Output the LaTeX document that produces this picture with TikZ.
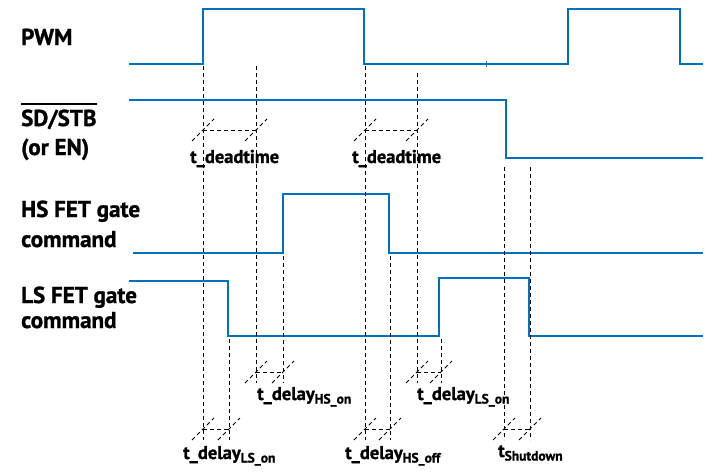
\documentclass[tikz,border=0pt]{standalone}
\usepackage{fontspec}
\setmainfont{PT Sans}[BoldFeatures={FakeBold=1.2}]
\definecolor{sigblue}{RGB}{0,112,192}
\newcommand\measline[3]{%
  \draw[guide] (#1,#3) -- (#2,#3);
  \draw[guide] (#1-11,#3+11) -- (#1+11,#3-11);
  \draw[guide] (#2-11,#3+11) -- (#2+11,#3-11);}
\newcommand\subtxt[1]{\raisebox{-3.5pt}{\fontsize{13.5}{14}\selectfont #1}}
\begin{document}
\begin{tikzpicture}[x=1pt,y=-1pt,
  sig/.style={draw=sigblue,line width=2.8pt,line join=miter},
  guide/.style={draw=black,line width=0.8pt,dash pattern=on 4pt off 3pt},
  lbl/.style={font=\bfseries\fontsize{23}{25}\selectfont,anchor=base west,inner sep=0pt},
  mlbl/.style={font=\bfseries\fontsize{18.5}{20}\selectfont,anchor=base west,inner sep=0pt}]
\useasboundingbox (0,0) rectangle (709,471);
\fill[white] (0,0) rectangle (709,471);

% signal labels
\node[lbl] (lpwm) at (21,45) {PWM};
\node[lbl] (lsd) at (21,126) {SD/STB};
\draw[line width=1.8pt] ([yshift=5pt]lsd.north west) -- ([yshift=5pt]lsd.north east);
\node[lbl] (len) at (21,155) {(or EN)};
\node[lbl] (lhs1) at (21,217) {HS FET gate};
\node[lbl] (lhs2) at (21,247) {command};
\node[lbl] (lls1) at (21,303) {LS FET gate};
\node[lbl] (lls2) at (21,328) {command};

% waveforms
\draw[sig] (129,64) -- (203,64) -- (203,9) -- (364,9) -- (364,64) -- (568,64) -- (568,9) -- (680,9) -- (680,64) -- (703,64);
\draw[sigblue,line width=1pt] (486,61) -- (486,67);
\draw[sig] (129,100) -- (506,100) -- (506,158) -- (703,158);
\draw[sig] (133,253) -- (283,253) -- (283,194) -- (389,194) -- (389,253) -- (703,253);
\draw[sig] (129,281) -- (228,281) -- (228,336) -- (439,336) -- (439,278) -- (529,278) -- (529,336) -- (703,336);

% vertical guides
\draw[guide] (203,66) -- (203,440);
\draw[guide] (256,66) -- (256,383);
\draw[guide] (365,66) -- (365,440);
\draw[guide] (417,73) -- (417,383);
\draw[guide] (283,256) -- (283,383);
\draw[guide] (229,339) -- (229,440);
\draw[guide] (390,256) -- (390,440);
\draw[guide] (441,339) -- (441,383);
\draw[guide] (504,167) -- (504,440);
\draw[guide] (530,167) -- (530,440);

% measurements
\measline{203}{256}{130}
\measline{365}{417}{130}
\measline{256}{283}{372}
\measline{417}{441}{372}
\measline{203}{229}{429}
\measline{365}{390}{429}
\measline{504}{530}{429}

% measurement labels
\node[mlbl] (dt1) at (190,163) {t\_deadtime};
\node[mlbl] (dt2) at (352,163) {t\_deadtime};
\node[mlbl] (dhs) at (257,400) {t\_delay\subtxt{HS\_on}};
\node[mlbl] (dls2) at (417,400) {t\_delay\subtxt{LS\_on}};
\node[mlbl] (dls1) at (183,459) {t\_delay\subtxt{LS\_on}};
\node[mlbl] (dhsoff) at (345,459) {t\_delay\subtxt{HS\_off}};
\node[mlbl] (tsd) at (498,457) {t\subtxt{Shutdown}};
\end{tikzpicture}
\end{document}
